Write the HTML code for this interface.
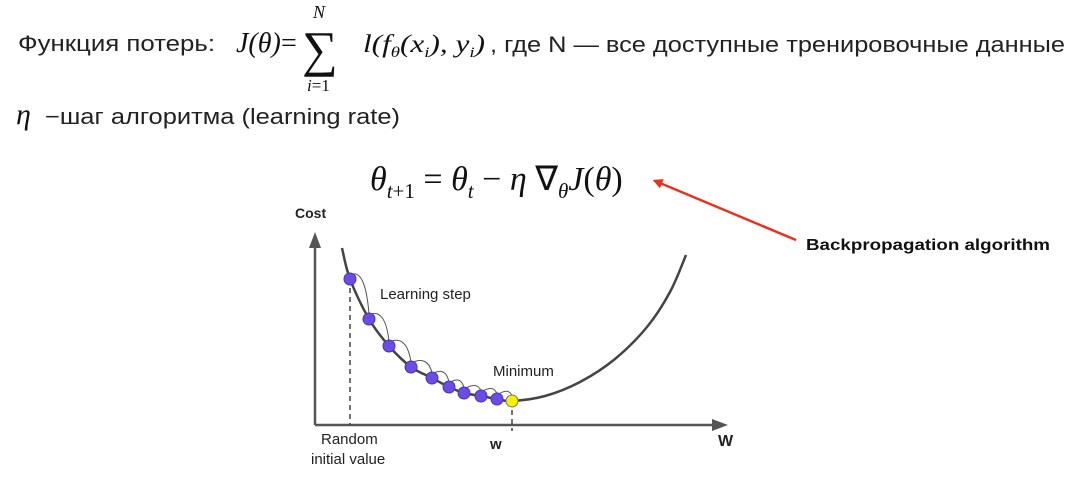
<!DOCTYPE html>
<html><head><meta charset="utf-8"><style>
html,body{margin:0;padding:0;background:#fff;}
svg{display:block;}
.sans{font-family:"Liberation Sans",sans-serif;}
.serif{font-family:"Liberation Serif",serif;}
</style></head><body>
<svg id="c" width="1083" height="477" viewBox="0 0 1083 477" xmlns="http://www.w3.org/2000/svg">
<defs>
<marker id="ar" markerWidth="10" markerHeight="10" refX="2" refY="5" orient="auto" markerUnits="userSpaceOnUse"><path d="M10,0 L0,5 L10,10 z" fill="#e8321e" transform="rotate(180 5 5)"/></marker>
</defs>
<g>
<text class="sans" x="18" y="51" font-size="22" fill="#222" textLength="197" lengthAdjust="spacingAndGlyphs">Функция потерь:</text>
<text class="serif" x="236" y="52" font-size="28" font-style="italic" fill="#111">J(θ)</text>
<text class="serif" x="281" y="52" font-size="28" fill="#111">=</text>
<text class="serif" x="302" y="66" font-size="50" fill="#111">∑</text>
<text class="serif" x="313" y="18" font-size="18" font-style="italic" fill="#111">N</text>
<text class="serif" x="307" y="91" font-size="17" fill="#111"><tspan font-style="italic">i</tspan>=1</text>
<text class="serif" x="363" y="52" font-size="25" font-style="italic" fill="#111" textLength="122" lengthAdjust="spacingAndGlyphs">l(f<tspan font-size="15" dy="5">θ</tspan><tspan dy="-5">(x</tspan><tspan font-size="15" dy="5">i</tspan><tspan dy="-5">), y</tspan><tspan font-size="15" dy="5">i</tspan><tspan dy="-5">)</tspan></text>
<text class="sans" x="490" y="52" font-size="22" fill="#222" textLength="575" lengthAdjust="spacingAndGlyphs">, где N — все доступные тренировочные данные</text>
</g>
<g>
<text class="serif" x="16" y="124" font-size="30" font-style="italic" fill="#111">η</text>
<text class="sans" x="45" y="124" font-size="22" fill="#222" textLength="355" lengthAdjust="spacingAndGlyphs">−шаг алгоритма (learning rate)</text>
</g>
<text class="serif" x="370" y="190" font-size="34" fill="#111"><tspan font-style="italic">θ</tspan><tspan font-size="21" dy="8" font-style="italic">t</tspan><tspan font-size="21">+1</tspan><tspan dy="-8"> = </tspan><tspan font-style="italic">θ</tspan><tspan font-size="21" dy="8" font-style="italic">t</tspan><tspan dy="-8"> − </tspan><tspan font-style="italic">η</tspan><tspan> ∇</tspan><tspan font-size="21" dy="8" font-style="italic">θ</tspan><tspan dy="-8" font-style="italic">J</tspan><tspan>(</tspan><tspan font-style="italic">θ</tspan><tspan>)</tspan></text>
<line x1="796" y1="240" x2="660" y2="183" stroke="#e8321e" stroke-width="2.5" marker-end="url(#ar)"/>
<text class="sans" x="806" y="250" font-size="16" font-weight="bold" fill="#111" textLength="244" lengthAdjust="spacingAndGlyphs">Backpropagation algorithm</text>
<g id="chart"></g>
</svg>
<script>
// data (w units, cost units)
const curveW = [2.7, 3.5, 5.4, 7.4, 9.6, 11.7, 13.4, 14.9, 16.6, 18.2, 19.7, 23.0, 26.5, 30.0, 33.2, 35.5, 37.1];
const curveCost = [17.7, 14.6, 10.6, 7.9, 5.8, 4.7, 3.8, 3.2, 2.9, 2.6, 2.4, 2.9, 4.3, 6.6, 9.8, 13.3, 17.0];
const stepW = [3.5, 5.4, 7.4, 9.6, 11.7, 13.4, 14.9, 16.6, 18.2];
const stepCost = [14.6, 10.6, 7.9, 5.8, 4.7, 3.8, 3.2, 2.9, 2.6];
const minW = [19.7];
const minCost = [2.4];
const NS = 'http://www.w3.org/2000/svg';
const X0 = 315, Y0 = 425;
function xs(v){ return X0 + v * 10; }
function ys(v){ return Y0 - v * 10; }
const g = document.getElementById('chart');
function mk(tag, attrs){ const e = document.createElementNS(NS, tag); for (const k in attrs) e.setAttribute(k, attrs[k]); g.appendChild(e); return e; }
let e = mk('line', {x1: X0, y1: Y0, x2: 715, y2: Y0, stroke: '#555', 'stroke-width': 2.5});


e = mk('path', {d: 'M728,' + Y0 + ' L712,' + (Y0 - 6) + ' L712,' + (Y0 + 6) + ' z', fill: '#555'});


e = mk('line', {x1: X0, y1: Y0, x2: X0, y2: 245, stroke: '#555', 'stroke-width': 2.5});


e = mk('path', {d: 'M' + X0 + ',232 L' + (X0 - 6) + ',248 L' + (X0 + 6) + ',248 z', fill: '#555'});


e = mk('line', {x1: xs(stepW[0]), y1: ys(stepCost[0]), x2: xs(stepW[0]), y2: Y0, stroke: '#444', 'stroke-width': 1.5, 'stroke-dasharray': '5,4'});


e = mk('line', {x1: xs(minW[0]), y1: ys(minCost[0]), x2: xs(minW[0]), y2: Y0 + 6, stroke: '#444', 'stroke-width': 1.5, 'stroke-dasharray': '5,4'});


const P = curveW.map((w, i) => [xs(w), ys(curveCost[i])]);
let d = 'M' + P[0][0] + ',' + P[0][1];
for (let i = 0; i < P.length - 1; i++) {
  const p0 = P[Math.max(0, i - 1)], p1 = P[i], p2 = P[i + 1], p3 = P[Math.min(P.length - 1, i + 2)];
  d += ' C' + (p1[0] + (p2[0] - p0[0]) / 6) + ',' + (p1[1] + (p2[1] - p0[1]) / 6) + ' ' + (p2[0] - (p3[0] - p1[0]) / 6) + ',' + (p2[1] - (p3[1] - p1[1]) / 6) + ' ' + p2[0] + ',' + p2[1];
}
e = mk('path', {d: d, fill: 'none', stroke: '#444', 'stroke-width': 2.5});


const allW = stepW.concat(minW), allC = stepCost.concat(minCost);
for (let i = 0; i < stepW.length; i++) {
  const x1 = xs(allW[i]), y1 = ys(allC[i]), x2 = xs(allW[i + 1]), y2 = ys(allC[i + 1]);
  e = mk('path', {d: 'M' + x1 + ',' + (y1 - 4) + ' Q' + (x1 + (x2 - x1) * 0.8) + ',' + (Math.min(y1, y2) - 12) + ' ' + x2 + ',' + (y2 - 5), fill: 'none', stroke: '#555', 'stroke-width': 1});
  
  
}
for (let i = 0; i < stepW.length; i++) {
  e = mk('circle', {cx: xs(stepW[i]), cy: ys(stepCost[i]), r: 6, fill: '#6b4de6', stroke: '#4a34b0', 'stroke-width': 1});
  
  
}
e = mk('circle', {cx: xs(minW[0]), cy: ys(minCost[0]), r: 6, fill: '#f4f000', stroke: '#777', 'stroke-width': 1});


function txt(x, y, s, size, bold){
  const t = mk('text', {x: x, y: y, 'font-size': size, fill: '#222', 'font-family': '"Liberation Sans", sans-serif'});
  if (bold) t.setAttribute('font-weight', 'bold');
  t.textContent = s;
  return t;
}
e = txt(295, 218, 'Cost', 14, true);


e = txt(380, 299, 'Learning step', 15);


e = txt(493, 376, 'Minimum', 15);


e = txt(321, 444, 'Random', 15);


e = txt(311, 464, 'initial value', 15);


e = txt(490, 449, 'w', 15, true);


e = txt(718, 446, 'W', 16, true);


</script>
</body></html>
